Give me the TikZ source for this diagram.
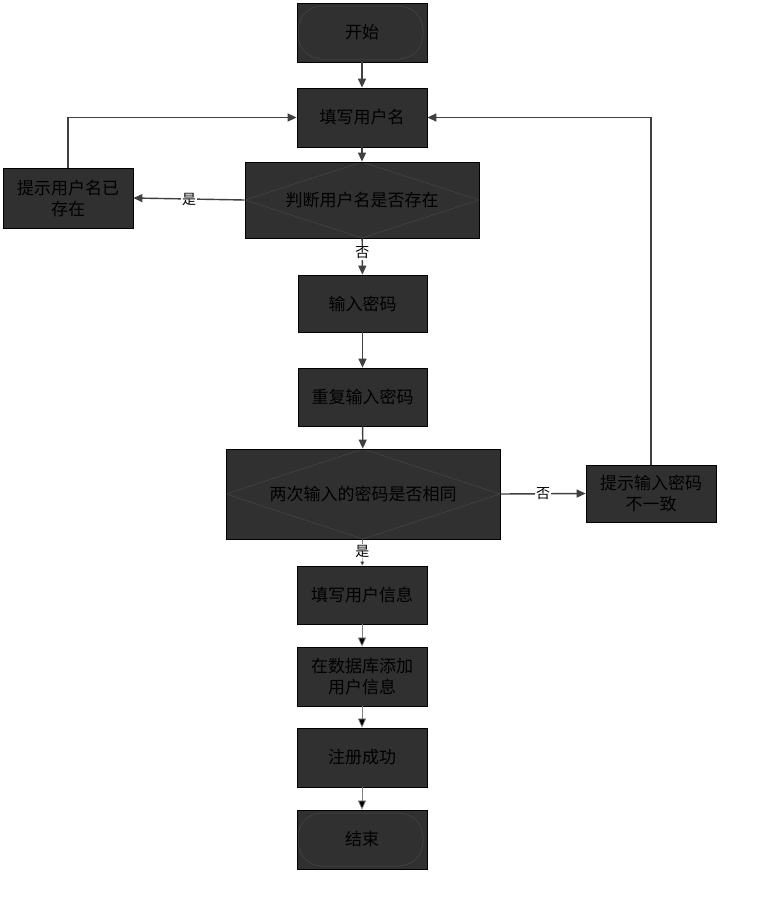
\documentclass[tikz,border=0pt]{standalone}
\usepackage{fontspec}
\setmainfont{Noto Sans CJK SC}
\usetikzlibrary{arrows.meta,calc}
\definecolor{boxfill}{HTML}{303030}
\definecolor{inner}{HTML}{474747}
\definecolor{linegrey}{HTML}{404040}
\tikzset{
  box/.style={draw=black, line width=0.8pt, fill=boxfill, text=black, font=\fontsize{17}{21}\selectfont, align=center, inner sep=0pt, minimum width=130pt, minimum height=59pt},
  terminal/.style={box, path picture={\draw[inner, line width=0.5pt, rounded corners=24pt] ($(path picture bounding box.south west)+(1,-3)$) rectangle ($(path picture bounding box.north east)+(-4,3)$);}},
  decision/.style={box, path picture={\draw[inner, line width=0.5pt] (path picture bounding box.north) -- (path picture bounding box.east) -- (path picture bounding box.south) -- (path picture bounding box.west) -- cycle;}},
  conn/.style={draw=linegrey, line width=1.4pt, -{Triangle[length=9pt,width=8pt]}},
  thinconn/.style={draw=gray, line width=0.7pt, -{Triangle[length=9pt,width=8pt,fill=black]}},
  lbl/.style={fill=white, inner sep=1pt, text=black, font=\fontsize{14}{16}\selectfont}
}
\begin{document}
\begin{tikzpicture}[x=1pt,y=-1pt]
\useasboundingbox[fill=white] (0,0) rectangle (782,900);
% nodes
\node[terminal] (start) at (362,32.5) {开始};
\node[box] (user) at (362,117.5) {填写用户名};
\node[decision, minimum width=234pt, minimum height=76pt] (check) at (362,200) {判断用户名是否存在};
\node[box, minimum width=130pt, minimum height=60pt] (exist) at (68,198) {提示用户名已\\存在};
\node[box, minimum width=129pt, minimum height=57pt] (pwd) at (362.5,303.5) {输入密码};
\node[box, minimum width=129pt, minimum height=58pt] (pwd2) at (362.5,397) {重复输入密码};
\node[decision, minimum width=274pt, minimum height=90pt] (same) at (363,494) {两次输入的密码是否相同};
\node[box, minimum width=130pt, minimum height=57pt] (diff) at (651,493.5) {提示输入密码\\不一致};
\node[box, minimum width=130pt, minimum height=58pt] (info) at (362,595) {填写用户信息};
\node[box, minimum width=130pt, minimum height=59pt] (db) at (362,676.5) {在数据库添加\\用户信息};
\node[box, minimum width=130pt, minimum height=59pt] (ok) at (362,757.5) {注册成功};
\node[terminal, minimum width=130pt, minimum height=59pt] (end) at (362,839.5) {结束};
% connectors
\draw[conn] (start) -- (user);
\draw[conn] (user) -- (check);
\draw[conn] (check.west) -- node[lbl]{是} (exist.east);
\draw[conn] (exist.north) |- (user.west);
\draw[conn] (check) -- node[lbl, pos=0.4]{否} (pwd);
\draw[conn] (pwd) -- (pwd2);
\draw[conn] (pwd2) -- (same);
\draw[conn] (same.east) -- node[lbl]{否} (diff.west);
\draw[conn] (diff.north) |- (user.east);
\draw[draw=gray, line width=0.6pt, -{Triangle[length=4pt,width=4pt,fill=black]}] (same) -- node[lbl, pos=0.45]{是} (info);
\draw[thinconn] (info) -- (db);
\draw[thinconn] (db) -- (ok);
\draw[thinconn] (ok) -- (end);
\end{tikzpicture}
\end{document}
